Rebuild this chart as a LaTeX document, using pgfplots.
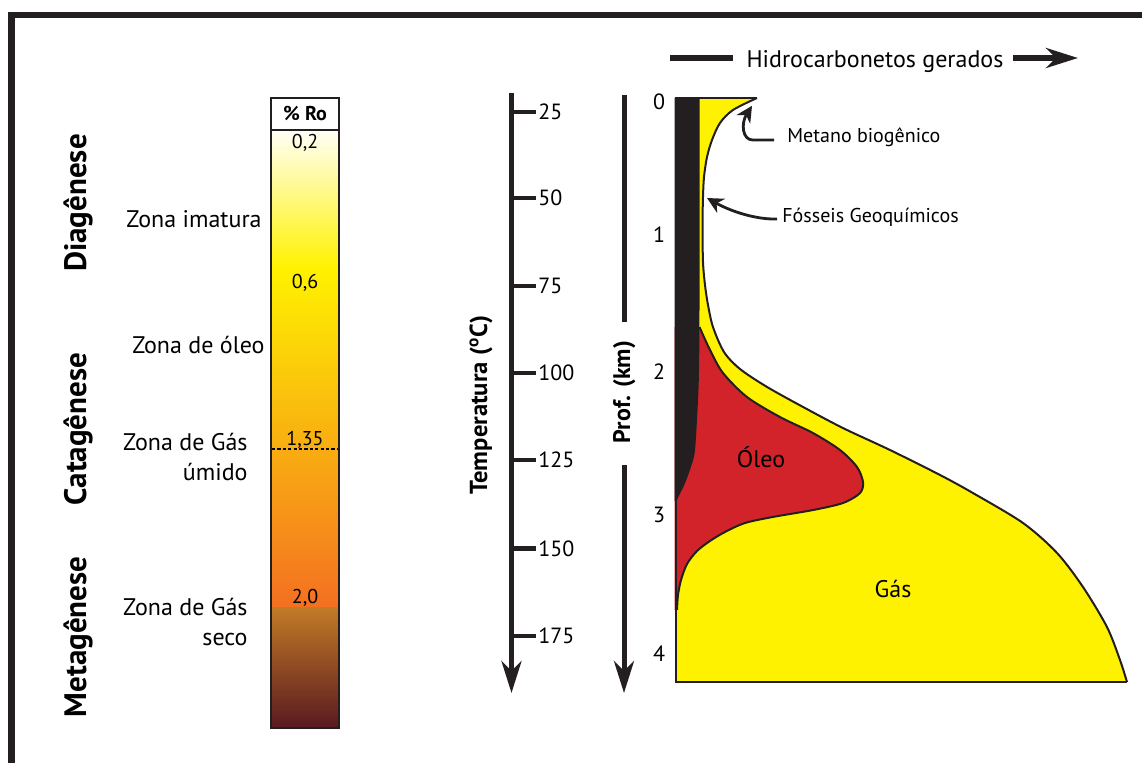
\documentclass[border=0pt]{standalone}
\usepackage{pgfplots}
\pgfplotsset{compat=1.18}
\usepgfplotslibrary{fillbetween}
\usetikzlibrary{arrows.meta}
\usepackage{fontspec}
\setmainfont{PT Sans}
\definecolor{ink}{HTML}{231F20}
\definecolor{hcyellow}{HTML}{FFF200}
\definecolor{hcred}{HTML}{D2232A}
\definecolor{ro1}{HTML}{FFFFF6}
\definecolor{ro2}{HTML}{FFF200}
\definecolor{ro3}{HTML}{FAAE1B}
\definecolor{ro4}{HTML}{F37021}
\definecolor{ro5}{HTML}{C27B26}
\definecolor{ro6}{HTML}{5A1A20}

% outer envelope (total hydrocarbons): x = relative amount, d = depth (km)
\pgfplotstableread{
x d
81 -0.022
57 0.065
44 0.159
36 0.283
31 0.406
28 0.551
27 0.696
26.5 0.900
27 1.167
29 1.333
32 1.478
37 1.638
48 1.819
64 1.942
91 2.072
127 2.217
167 2.370
214 2.529
264 2.710
297 2.841
347 3.058
381 3.275
407 3.522
431 3.812
444 4.051
451 4.210
}\outertab

% oil window boundary
\pgfplotstableread{
x d
23.5 1.638
34 1.804
47 1.971
71 2.145
104 2.290
137 2.406
164 2.529
181 2.652
187 2.761
184 2.841
167 2.913
137 2.964
97 3.014
69 3.058
49 3.123
34 3.188
21 3.261
11 3.355
5 3.471
2 3.580
1 3.688
}\redtab

% geochemical fossils (black strip) right edge
\pgfplotstableread{
x d
23.5 -0.022
23.5 1.5
23 1.95
22 2.17
19 2.53
15 2.65
9 2.77
3 2.86
0.3 2.90
}\blacktab

\newcommand{\fs}[1]{\fontsize{#1}{#1}\selectfont}

\begin{document}
\begin{tikzpicture}
% ---------------- base layer (pixel-like coordinates) ----------------
\begin{axis}[at={(0pt,0pt)}, anchor=south west, scale only axis,
  width=571pt, height=381pt, xmin=0, xmax=1142, ymin=0, ymax=762,
  y dir=reverse, hide axis, clip=false, enlargelimits=false]

% frame
\draw[ink, line width=3pt, line join=miter] (axis cs:11.5,790) -- (axis cs:11.5,14.5) -- (axis cs:1170,14.5);

% stage names
\node[rotate=90, anchor=base, font=\bfseries\fs{15.5}] at (axis cs:86,203) {Diagênese};
\node[rotate=90, anchor=base, font=\bfseries\fs{15.5}] at (axis cs:86,429) {Catagênese};
\node[rotate=90, anchor=base, font=\bfseries\fs{15.5}] at (axis cs:86,637) {Metagênese};

% zone names
\node[anchor=base east, inner sep=0pt, font=\fs{12}] at (axis cs:262,227) {Zona imatura};
\node[anchor=base east, inner sep=0pt, font=\fs{12}] at (axis cs:265,353) {Zona de óleo};
\node[anchor=base east, inner sep=0pt, font=\fs{12}] at (axis cs:248,450) {Zona de Gás};
\node[anchor=base east, inner sep=0pt, font=\fs{12}] at (axis cs:248,480) {úmido};
\node[anchor=base east, inner sep=0pt, font=\fs{12}] at (axis cs:248,615) {Zona de Gás};
\node[anchor=base east, inner sep=0pt, font=\fs{12}] at (axis cs:248,645) {seco};

% %Ro bar
\path[top color=ro1, bottom color=ro2] (axis cs:272,130) rectangle (axis cs:338,268);
\path[top color=ro2, middle color=ro3, bottom color=ro4] (axis cs:272,268) rectangle (axis cs:338,607.5);
\path[top color=ro5, bottom color=ro6] (axis cs:272,607) rectangle (axis cs:338,727);
\draw[ink, line width=1pt] (axis cs:271,98) rectangle (axis cs:339,728);
\draw[ink, line width=1pt] (axis cs:271,129.5) -- (axis cs:339,129.5);
\draw[black, line width=1.2pt, dash pattern=on 1.6pt off 1.1pt] (axis cs:272,449) -- (axis cs:338,449);
\node[anchor=base, inner sep=0pt, font=\bfseries\fs{10}] at (axis cs:305,120) {\% Ro};
\node[anchor=base, inner sep=0pt, font=\fs{10}] at (axis cs:305,148) {0,2};
\node[anchor=base, inner sep=0pt, font=\fs{10}] at (axis cs:305,288) {0,6};
\node[anchor=base, inner sep=0pt, font=\fs{10}] at (axis cs:305,445) {1,35};
\node[anchor=base, inner sep=0pt, font=\fs{10}] at (axis cs:305,603) {2,0};

% temperature scale
\draw[ink, line width=2.5pt, -{Stealth[length=16pt,width=10pt,inset=5pt]}] (axis cs:511.5,93) -- (axis cs:511.5,693);
\draw[ink, line width=2.2pt] (axis cs:511,112) -- (axis cs:536,112);
\draw[ink, line width=2.2pt] (axis cs:511,198) -- (axis cs:536,198);
\draw[ink, line width=2.2pt] (axis cs:511,286) -- (axis cs:536,286);
\draw[ink, line width=2.2pt] (axis cs:511,373) -- (axis cs:536,373);
\draw[ink, line width=2.2pt] (axis cs:511,460) -- (axis cs:536,460);
\draw[ink, line width=2.2pt] (axis cs:511,548.5) -- (axis cs:536,548.5);
\draw[ink, line width=2.2pt] (axis cs:511,636) -- (axis cs:536,636);
\node[anchor=west, inner sep=0pt, font=\fs{11}] at (axis cs:538,112) {25};
\node[anchor=west, inner sep=0pt, font=\fs{11}] at (axis cs:538,198) {50};
\node[anchor=west, inner sep=0pt, font=\fs{11}] at (axis cs:538,286) {75};
\node[anchor=west, inner sep=0pt, font=\fs{11}] at (axis cs:538,373) {100};
\node[anchor=west, inner sep=0pt, font=\fs{11}] at (axis cs:538,460) {125};
\node[anchor=west, inner sep=0pt, font=\fs{11}] at (axis cs:538,548.5) {150};
\node[anchor=west, inner sep=0pt, font=\fs{11}] at (axis cs:538,636) {175};
\node[rotate=90, anchor=base, font=\bfseries\fs{12.3}] at (axis cs:487,405) {Temperatura (\textsuperscript{o}C)};

% depth arrow
\draw[ink, line width=2.5pt] (axis cs:624,95) -- (axis cs:624,322);
\draw[ink, line width=2.5pt, -{Stealth[length=16pt,width=10pt,inset=5pt]}] (axis cs:624,465) -- (axis cs:624,693);
\node[rotate=90, anchor=base, font=\bfseries\fs{12}] at (axis cs:630,392) {Prof. (km)};

% top heading
\draw[ink, line width=2.6pt] (axis cs:670,58) -- (axis cs:733,58);
\node[anchor=base, inner sep=0pt, font=\fs{12}] at (axis cs:875,67) {Hidrocarbonetos gerados};
\draw[ink, line width=2.6pt, -{Stealth[length=16pt,width=10pt,inset=5pt]}] (axis cs:1013,58) -- (axis cs:1078,58);
\end{axis}

% ---------------- depth chart ----------------
\begin{axis}[at={(338pt,20pt)}, anchor=south west, scale only axis,
  width=230pt, height=345pt, xmin=0, xmax=460, ymin=-0.5, ymax=4.5,
  y dir=reverse, hide axis, clip=false, enlargelimits=false]
\addplot[draw=none, smooth, name path=outer] table[x=x, y=d] {\outertab};
\addplot[draw=none, name path=outerleft] coordinates {(-1,-0.022) (-1,4.21)};
\addplot[hcyellow] fill between[of=outer and outerleft, reverse=true];

\addplot[draw=none, smooth, name path=oil] table[x=x, y=d] {\redtab};
\addplot[draw=none, name path=oilleft] coordinates {(-1.5,1.638) (-1.5,3.688)};
\addplot[hcred] fill between[of=oil and oilleft, reverse=true];

\addplot[draw=none, smooth, name path=fossil] table[x=x, y=d] {\blacktab};
\addplot[draw=none, name path=fossilleft] coordinates {(-1.5,-0.022) (-1.5,2.9)};
\addplot[ink] fill between[of=fossil and fossilleft, reverse=true];

\addplot[ink, line width=1pt, smooth] table[x=x, y=d] {\redtab};
\addplot[ink, line width=1pt, smooth] table[x=x, y=d] {\outertab};
\addplot[ink, line width=1pt, sharp plot, line join=miter] coordinates {(81,-0.022) (0,-0.022) (0,4.21) (451,4.21)};

% depth labels
\node[font=\fs{11}, inner sep=0pt] at (axis cs:-17,0.005) {0};
\node[font=\fs{11}, inner sep=0pt] at (axis cs:-17,0.971) {1};
\node[font=\fs{11}, inner sep=0pt] at (axis cs:-17,1.964) {2};
\node[font=\fs{11}, inner sep=0pt] at (axis cs:-17,3.0) {3};
\node[font=\fs{11}, inner sep=0pt] at (axis cs:-17,4.007) {4};

% annotations
\draw[ink, line width=1.4pt, -{Stealth[length=8pt,width=8pt,inset=2.5pt]}] (axis cs:98,0.283) -- (axis cs:77,0.283) .. controls (axis cs:66,0.283) and (axis cs:65,0.16) .. (axis cs:76,0.035);
\draw[ink, line width=1.4pt, -{Stealth[length=8pt,width=8pt,inset=2.5pt]}] (axis cs:101,0.855) .. controls (axis cs:80,0.86) and (axis cs:55,0.80) .. (axis cs:31,0.703);
\node[anchor=base west, inner sep=0pt, font=\fs{10}] at (axis cs:111,0.304) {Metano biogênico};
\node[anchor=base west, inner sep=0pt, font=\fs{10}] at (axis cs:106,0.884) {Fósseis Geoquímicos};
\node[anchor=base, inner sep=0pt, font=\fs{12}] at (axis cs:85,2.659) {Óleo};
\node[anchor=base, inner sep=0pt, font=\fs{12}] at (axis cs:217,3.601) {Gás};
\end{axis}
\pgfresetboundingbox
\path[use as bounding box] (0pt,0pt) rectangle (571pt,381pt);
\end{tikzpicture}
\end{document}
